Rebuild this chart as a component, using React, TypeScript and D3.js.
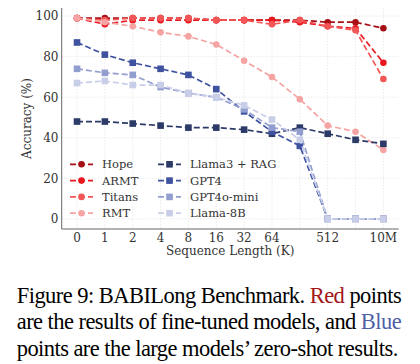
import React, { useEffect, useRef } from 'react';
import * as d3 from 'd3';

// sequence length categories (K)
const categories = ['0', '1', '2', '4', '8', '16', '32', '64', '128', '512', '1M', '10M'];
const tickLabels = ['0', '1', '2', '4', '8', '16', '32', '64', '', '512', '', '10M'];
const yTicks = [0, 20, 40, 60, 80, 100];

// fine-tuned models (red)
const hope = [99, 99, 99, 99, 99, 98, 98, 98, 98, 97, 97, 94];
const armt = [99, 96, 98, 98, 98, 98, 98, 98, 97, 95, 94, 77];
const titans = [99, 98, 99, 99, 99, 98, 98, 96, 98, 95, 93, 69];
const rmt = [99, 97, 95, 92, 90, 86, 78, 70, 59, 46, 43, 34];

// zero-shot large models (blue)
const llamaRag = [48, 48, 47, 46, 45, 45, 44, 42, 45, 42, 39, 37];
const gpt4 = [87, 81, 77, 74, 71, 64, 53, 43, 36, 0, 0, 0];
const gpt4oMini = [74, 72, 71, 65, 62, 60, 54, 45, 43, 0, 0, 0];
const llama8b = [67, 68, 66, 66, 62, 60, 56, 49, 39, 0, 0, 0];

const seriesNames = ['Hope', 'ARMT', 'Titans', 'RMT', 'Llama3 + RAG', 'GPT4', 'GPT4o-mini', 'Llama-8B'];
const seriesValues = [hope, armt, titans, rmt, llamaRag, gpt4, gpt4oMini, llama8b];
const seriesColors = ['#a50f15', '#e8171f', '#f25656', '#f6a3a3', '#2b3a66', '#3e52a0', '#939ed0', '#c9cee8'];
const seriesShapes = ['circle', 'circle', 'circle', 'circle', 'square', 'square', 'square', 'square'];

const W = 420;
const H = 364;

const App: React.FC = () => {
  const svgRef = useRef<SVGSVGElement>(null);

  useEffect(() => {
    document.body.style.margin = '0';
    if (!svgRef.current) return;
    const svg = d3.select(svgRef.current);
    svg.selectAll('*').remove();

    const left = 61.7, right = 398.7, top = 8, bottom = 229;
    const font = 'DejaVu Serif';

    const x = d3.scalePoint<string>().domain(categories).range([left, right]).padding(0.55);
    const y = d3.scaleLinear().domain([-5, 104]).range([bottom, top]);

    // grid
    const grid = svg.append('g');
    grid.selectAll('.gx').data(categories).enter().append('line')
      .attr('x1', d => x(d)!).attr('x2', d => x(d)!)
      .attr('y1', top).attr('y2', bottom)
      .attr('stroke', '#e6e6e6').attr('stroke-width', 0.8).attr('stroke-dasharray', '1.5,1.5');
    grid.selectAll('.gy').data(yTicks).enter().append('line')
      .attr('x1', left).attr('x2', right)
      .attr('y1', d => y(d)).attr('y2', d => y(d))
      .attr('stroke', '#e6e6e6').attr('stroke-width', 0.8).attr('stroke-dasharray', '1.5,1.5');

    // spines
    svg.append('line').attr('x1', left).attr('x2', left).attr('y1', top).attr('y2', bottom)
      .attr('stroke', '#666').attr('stroke-width', 1);
    svg.append('line').attr('x1', left).attr('x2', right).attr('y1', bottom).attr('y2', bottom)
      .attr('stroke', '#666').attr('stroke-width', 1);

    // tick labels
    svg.selectAll('.xt').data(categories).enter().append('text')
      .attr('x', d => x(d)!).attr('y', 241.5)
      .attr('text-anchor', 'middle')
      .style('font-family', font).style('font-size', '12px').attr('fill', '#333')
      .text((d, i) => tickLabels[i]);
    svg.selectAll('.yt').data(yTicks).enter().append('text')
      .attr('x', 58.5).attr('y', d => y(d)).attr('dy', '0.36em')
      .attr('text-anchor', 'end')
      .style('font-family', font).style('font-size', '12px').attr('fill', '#333')
      .text(d => d);

    // axis labels
    svg.append('text')
      .attr('x', (left + right) / 2).attr('y', 254.5)
      .attr('text-anchor', 'middle')
      .style('font-family', font).style('font-size', '12px').attr('fill', '#333')
      .text('Sequence Length (K)');
    svg.append('text')
      .attr('transform', `translate(31,${(top + bottom) / 2}) rotate(-90)`)
      .attr('text-anchor', 'middle')
      .style('font-family', font).style('font-size', '12px').attr('fill', '#333')
      .text('Accuracy (%)');

    const line = d3.line<number>()
      .x((d, i) => x(categories[i])!)
      .y(d => y(d));

    const drawMarker = (g: any, shape: string, cx: number, cy: number, color: string) => {
      if (shape === 'circle') {
        g.append('circle').attr('cx', cx).attr('cy', cy).attr('r', 3.3).attr('fill', color);
      } else {
        g.append('rect').attr('x', cx - 3.3).attr('y', cy - 3.3)
          .attr('width', 6.6).attr('height', 6.6).attr('fill', color);
      }
    };

    // series
    seriesValues.forEach((vals, s) => {
      const g = svg.append('g');
      g.append('path')
        .attr('d', line(vals)!)
        .attr('fill', 'none')
        .attr('stroke', seriesColors[s])
        .attr('stroke-width', 1.7)
        .attr('stroke-dasharray', '6,3');
      vals.forEach((v, i) => drawMarker(g, seriesShapes[s], x(categories[i])!, y(v), seriesColors[s]));
    });

    // legend
    const legend = svg.append('g');
    const colX = [70, 158];
    const rowY = [164.3, 180.6, 196.9, 213.2];
    seriesNames.forEach((name, s) => {
      const col = Math.floor(s / 4);
      const row = s % 4;
      const lx = colX[col];
      const ly = rowY[row];
      const g = legend.append('g');
      g.append('line').attr('x1', lx).attr('x2', lx + 23).attr('y1', ly).attr('y2', ly)
        .attr('stroke', seriesColors[s]).attr('stroke-width', 1.7).attr('stroke-dasharray', '6,3');
      drawMarker(g, seriesShapes[s], lx + 11.5, ly, seriesColors[s]);
      g.append('text').attr('x', lx + 32).attr('y', ly).attr('dy', '0.36em')
        .style('font-family', font).style('font-size', '11.5px').attr('fill', '#333')
        .text(name);
    });

    // caption
    const cap = svg.append('g').style('font-family', 'Liberation Serif').style('font-size', '22.5px').attr('fill', '#000');
    const l1 = cap.append('text').attr('x', 16.7).attr('y', 302.5)
      .attr('textLength', 385).attr('lengthAdjust', 'spacing');
    l1.append('tspan').text('Figure 9: BABILong Benchmark. ');
    l1.append('tspan').attr('fill', '#a3161a').text('Red');
    l1.append('tspan').text(' points');
    const l2 = cap.append('text').attr('x', 16.7).attr('y', 329.2)
      .attr('textLength', 385).attr('lengthAdjust', 'spacing');
    l2.append('tspan').text('are the results of fine-tuned models, and ');
    l2.append('tspan').attr('fill', '#4f5fa6').text('Blue');
    cap.append('text').attr('x', 16.7).attr('y', 355.9)
      .attr('textLength', 381.6).attr('lengthAdjust', 'spacing')
      .text('points are the large models\u2019 zero-shot results.');
  }, []);

  return <svg ref={svgRef} width={W} height={H} style={{ display: 'block', background: '#fff' }} />;
};

export default App;
